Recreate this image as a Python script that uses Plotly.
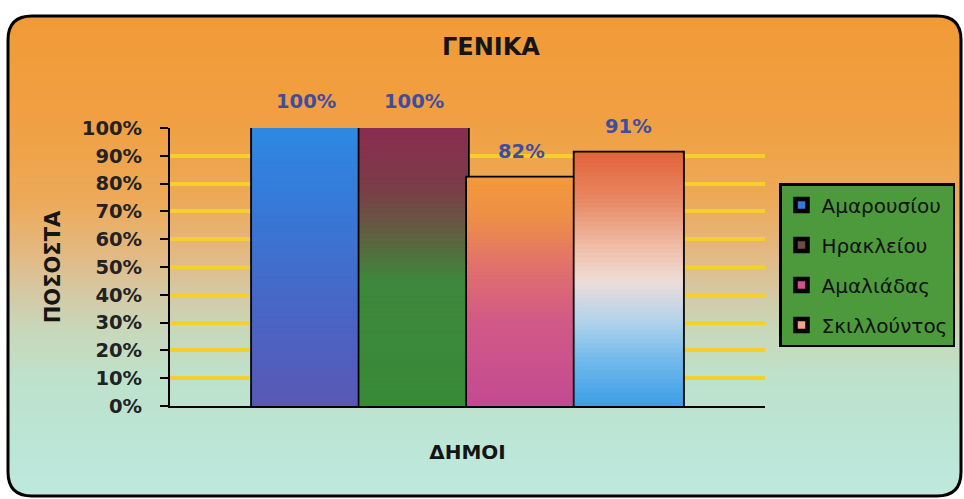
import base64
import struct
import zlib

import numpy as np
import plotly.graph_objects as go

# ---------------- data ----------------
municipalities = ["Αμαρουσίου", "Ηρακλείου", "Αμαλιάδας", "Σκιλλούντος"]
percentages = [100, 100, 82, 91]
category = ["ΔΗΜΟΙ"]
y_tick_values = list(range(0, 101, 10))
y_tick_labels = [f"{v}%" for v in y_tick_values]
chart_title = "ΓΕΝΙΚΑ"
y_title = "ΠΟΣΟΣΤΑ"
x_title = "ΔΗΜΟΙ"

# ---------------- styles ----------------
bar_gradients = [
    [(0.0, "#5A58B6"), (0.4, "#4668C8"), (0.7, "#3878D6"), (1.0, "#2E88E2")],
    [(0.0, "#388A38"), (0.45, "#3E883C"), (0.6, "#5C6440"), (0.78, "#7A3E48"), (1.0, "#8A2C52")],
    [(0.0, "#C44A92"), (0.38, "#D25A86"), (0.64, "#E27468"), (0.82, "#EE8E48"), (1.0, "#F29A3A")],
    [(0.0, "#3C9EE6"), (0.18, "#70B8EC"), (0.34, "#B4D4EC"), (0.5, "#EEDCD6"),
     (0.62, "#F0C0AC"), (0.81, "#E88A66"), (1.0, "#E2643A")],
]
legend_colors = ["#3A76D6", "#6E4A44", "#D0528A", "#EFA488"]
bg_stops = [(16, "#F29B38"), (120, "#F1A043"), (200, "#EDAA58"), (250, "#E4B880"),
            (290, "#D6C8A2"), (330, "#C8D8BA"), (380, "#BEE2CC"), (440, "#BCE6D6"),
            (496, "#BFE9DD")]

W, H = 964, 499
ML, MR, MT, MB = 170, 199, 128, 93
PW, PH = W - ML - MR, H - MT - MB
BARGAP = 0.277
NSEG = 56
FONT = "DejaVu Sans"


def hex_rgb(h):
    h = h.lstrip("#")
    return np.array([int(h[i:i + 2], 16) for i in (0, 2, 4)], dtype=float)


def interp_color(stops, t):
    pos = [s[0] for s in stops]
    cols = np.array([hex_rgb(s[1]) for s in stops])
    rgb = [np.interp(t, pos, cols[:, c]) for c in range(3)]
    return "rgb({:.0f},{:.0f},{:.0f})".format(*rgb)


def px2x(px):
    return (px - ML) / PW


def py2y(py):
    return (H - MB - py) / PH


# ---------------- background image (rounded gradient panel) ----------------
FL, FR, FT, FB, RAD = 8, 961, 16, 496, 24
iw, ih = FR - FL, FB - FT
ys = np.arange(ih) + FT
cols = np.array([hex_rgb(c) for _, c in bg_stops])
posy = [p for p, _ in bg_stops]
rgb_rows = np.stack([np.interp(ys, posy, cols[:, c]) for c in range(3)], axis=1)
img = np.zeros((ih, iw, 4), dtype=np.uint8)
img[:, :, :3] = rgb_rows[:, None, :].astype(np.uint8)
xx = np.arange(iw)[None, :] + 0.5
yy = np.arange(ih)[:, None] + 0.5
dx = np.maximum(np.maximum(RAD - xx, xx - (iw - RAD)), 0)
dy = np.maximum(np.maximum(RAD - yy, yy - (ih - RAD)), 0)
alpha = np.clip(RAD + 0.5 - np.sqrt(dx ** 2 + dy ** 2), 0, 1)
img[:, :, 3] = (alpha * 255).astype(np.uint8)


def png_uri(arr):
    h, w, _ = arr.shape
    raw = b"".join(b"\x00" + arr[r].tobytes() for r in range(h))

    def chunk(t, d):
        return struct.pack(">I", len(d)) + t + d + struct.pack(">I", zlib.crc32(t + d) & 0xFFFFFFFF)

    data = (b"\x89PNG\r\n\x1a\n"
            + chunk(b"IHDR", struct.pack(">IIBBBBB", w, h, 8, 6, 0, 0, 0))
            + chunk(b"IDAT", zlib.compress(raw, 9))
            + chunk(b"IEND", b""))
    return "data:image/png;base64," + base64.b64encode(data).decode()


# ---------------- traces ----------------
fig = go.Figure()
for i, (name, val) in enumerate(zip(municipalities, percentages)):
    # outline / legend bar (underneath)
    fig.add_trace(go.Bar(
        x=category, y=[val], name=name, offsetgroup=str(i), legendgroup=name,
        marker=dict(color=legend_colors[i], line=dict(color="black", width=4.5)),
        hoverinfo="skip",
    ))
    # gradient fill built from stacked slices of the same value
    seg = val / NSEG
    fracs = [(k + 0.5) / NSEG for k in range(NSEG)]
    colors = [interp_color(bar_gradients[i], f) for f in fracs]
    fig.add_trace(go.Bar(
        x=category * NSEG, y=[seg] * NSEG, base=[seg * k for k in range(NSEG)],
        offsetgroup=str(i), legendgroup=name, showlegend=False,
        marker=dict(color=colors, line=dict(color=colors, width=1)),
        hoverinfo="skip",
    ))

# data labels above the bars
slot = (1 - BARGAP) / len(municipalities)
annotations = []
for i, val in enumerate(percentages):
    annotations.append(dict(
        x=-(1 - BARGAP) / 2 + (i + 0.5) * slot, y=val, xref="x", yref="y",
        text=f"<b>{val}%</b>", showarrow=False, yanchor="middle", yshift=27,
        font=dict(family=FONT, size=19.5, color="#3E4E9E"),
    ))

frame_path = (
    f"M{px2x(FL + RAD)},{py2y(FT)} H{px2x(FR - RAD)} Q{px2x(FR)},{py2y(FT)} {px2x(FR)},{py2y(FT + RAD)} "
    f"V{py2y(FB - RAD)} Q{px2x(FR)},{py2y(FB)} {px2x(FR - RAD)},{py2y(FB)} "
    f"H{px2x(FL + RAD)} Q{px2x(FL)},{py2y(FB)} {px2x(FL)},{py2y(FB - RAD)} "
    f"V{py2y(FT + RAD)} Q{px2x(FL)},{py2y(FT)} {px2x(FL + RAD)},{py2y(FT)} Z"
)

fig.update_layout(
    width=W, height=H,
    margin=dict(l=ML, r=MR, t=MT, b=MB, autoexpand=False),
    paper_bgcolor="white", plot_bgcolor="#F7D5B4",
    barmode="group", bargap=BARGAP, bargroupgap=0,
    font=dict(family=FONT, color="#1A1A1A"),
    title=dict(text=f"<b>{chart_title}</b>", xref="container", x=491 / W, xanchor="center",
               yref="container", y=1 - 47 / H, yanchor="middle",
               font=dict(family=FONT, size=24, color="#151515")),
    xaxis=dict(showticklabels=False, ticks="", showline=True, linecolor="black", linewidth=2,
               showgrid=False, zeroline=False, fixedrange=True,
               title=dict(text=f"<b>{x_title}</b>", standoff=38,
                          font=dict(family=FONT, size=20, color="#151515"))),
    yaxis=dict(range=[0, 100], tickvals=y_tick_values, ticktext=y_tick_labels,
               tickfont=dict(family=FONT, size=19.5, color="#222222", weight="bold"),
               ticks="outside", ticklen=8, tickwidth=1.5, tickcolor="black",
               ticklabelstandoff=14,
               showline=True, linecolor="black", linewidth=2,
               showgrid=True, gridcolor="#F6D02A", gridwidth=3.5, zeroline=False,
               title=dict(text=f"<b>{y_title}</b>", standoff=15,
                          font=dict(family=FONT, size=21, color="#151515"))),
    legend=dict(x=px2x(779), y=py2y(183), xanchor="left", yanchor="top",
                bgcolor="#4C9A3C", bordercolor="black", borderwidth=2.5,
                font=dict(family=FONT, size=20, color="#111111"),
                traceorder="grouped", tracegroupgap=11),
    annotations=annotations,
    images=[dict(source=png_uri(img), xref="paper", yref="paper",
                 x=px2x(FL), y=py2y(FT), sizex=iw / PW, sizey=ih / PH,
                 xanchor="left", yanchor="top", sizing="stretch", layer="below")],
    shapes=[dict(type="path", path=frame_path, xref="paper", yref="paper",
                 line=dict(color="black", width=3), layer="above")],
)

fig.write_html("out.html")
